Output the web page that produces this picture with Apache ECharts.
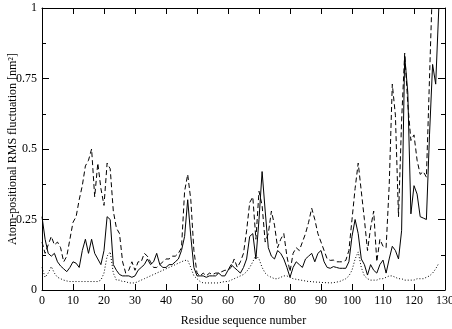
<!DOCTYPE html>
<html>
<head>
<meta charset="utf-8">
<script src="https://cdn.jsdelivr.net/npm/echarts@6/dist/echarts.min.js"></script>
<style>html,body{margin:0;padding:0;background:#fff}#c{width:452px;height:329px}</style>
</head>
<body>
<div id="c"></div>
<script>
// x ticks and y ticks
var xTicks = [0,10,20,30,40,50,60,70,80,90,100,110,120,130];
var yTicks = [0,0.25,0.5,0.75,1];
// residue 0..128 values
var solid = [0.26,0.18,0.13,0.12,0.13,0.10,0.085,0.075,0.065,0.08,
0.10,0.095,0.08,0.14,0.18,0.13,0.18,0.13,0.11,0.09,
0.14,0.26,0.25,0.09,0.07,0.055,0.05,0.05,0.05,0.045,
0.05,0.07,0.08,0.09,0.11,0.09,0.10,0.13,0.09,0.08,
0.08,0.09,0.09,0.10,0.11,0.14,0.19,0.32,0.19,0.08,
0.05,0.05,0.05,0.045,0.05,0.05,0.05,0.06,0.05,0.05,
0.07,0.09,0.08,0.07,0.06,0.08,0.11,0.19,0.20,0.11,
0.25,0.42,0.28,0.15,0.12,0.11,0.14,0.13,0.11,0.08,
0.045,0.08,0.10,0.09,0.08,0.11,0.12,0.13,0.10,0.13,
0.14,0.10,0.08,0.077,0.083,0.08,0.077,0.077,0.077,0.10,
0.19,0.25,0.20,0.11,0.09,0.053,0.09,0.07,0.06,0.09,
0.106,0.06,0.11,0.155,0.14,0.11,0.21,0.83,0.70,0.27,
0.37,0.34,0.26,0.255,0.25,0.55,0.80,0.73,1.0];
var dashed = [0.17,0.13,0.16,0.19,0.16,0.17,0.15,0.10,0.12,0.18,
0.24,0.26,0.32,0.37,0.44,0.46,0.50,0.33,0.45,0.36,
0.30,0.45,0.43,0.28,0.22,0.20,0.10,0.06,0.07,0.10,
0.07,0.10,0.10,0.13,0.12,0.10,0.08,0.08,0.09,0.10,
0.11,0.11,0.12,0.12,0.13,0.15,0.35,0.41,0.32,0.14,
0.06,0.05,0.06,0.05,0.06,0.055,0.06,0.06,0.065,0.07,
0.07,0.08,0.11,0.08,0.10,0.13,0.21,0.31,0.33,0.18,
0.35,0.30,0.17,0.20,0.28,0.23,0.15,0.18,0.20,0.12,
0.065,0.13,0.15,0.14,0.17,0.20,0.24,0.29,0.25,0.20,
0.17,0.14,0.11,0.105,0.106,0.10,0.10,0.10,0.105,0.14,
0.25,0.36,0.45,0.35,0.25,0.14,0.22,0.28,0.10,0.18,
0.155,0.15,0.37,0.73,0.62,0.26,0.60,0.84,0.66,0.53,
0.55,0.46,0.41,0.42,0.40,0.75,1.1,1.1,1.1];
var dotted = [0.08,0.045,0.06,0.083,0.06,0.045,0.04,0.035,0.032,0.03,
0.03,0.03,0.03,0.03,0.03,0.03,0.03,0.03,0.03,0.035,
0.06,0.12,0.135,0.06,0.035,0.035,0.03,0.03,0.025,0.025,
0.025,0.03,0.035,0.04,0.045,0.05,0.055,0.06,0.065,0.07,
0.075,0.08,0.085,0.09,0.095,0.10,0.105,0.105,0.08,0.05,
0.04,0.03,0.025,0.025,0.025,0.025,0.025,0.025,0.028,0.03,
0.03,0.035,0.04,0.045,0.05,0.055,0.065,0.08,0.10,0.124,
0.11,0.08,0.06,0.05,0.045,0.04,0.04,0.045,0.05,0.05,
0.045,0.04,0.038,0.036,0.034,0.032,0.03,0.03,0.028,0.028,
0.027,0.026,0.026,0.025,0.026,0.028,0.03,0.035,0.04,0.05,
0.07,0.11,0.135,0.08,0.05,0.04,0.035,0.035,0.035,0.04,
0.04,0.045,0.05,0.05,0.045,0.04,0.04,0.035,0.035,0.035,
0.035,0.04,0.04,0.04,0.045,0.05,0.06,0.075,0.095];

var FONT = 'Liberation Serif';
function pairs(arr){ return arr.map(function(v,i){ return [i, v]; }); }
var axLine = {show:true, onZero:false, lineStyle:{color:'#000', width:1}};
var chart = echarts.init(document.getElementById('c'), null, {renderer:'canvas'});
chart.setOption({
  backgroundColor:'#fff',
  animation:false,
  grid:{left:42, right:7, top:8, bottom:39, containLabel:false, outerBoundsMode:'none'},
  xAxis:[{
    type:'value', min:xTicks[0], max:xTicks[xTicks.length-1], interval:10,
    position:'bottom',
    axisLine:axLine,
    axisTick:{show:true, inside:true, length:6, lineStyle:{color:'#000'}},
    axisLabel:{show:true, color:'#000', fontFamily:FONT, fontSize:12, margin:5},
    splitLine:{show:false},
    name:'Residue sequence number', nameLocation:'middle', nameGap:25, nameMoveOverlap:false,
    nameTextStyle:{color:'#000', fontFamily:FONT, fontSize:12}
  },{
    type:'value', min:xTicks[0], max:xTicks[xTicks.length-1], interval:10,
    position:'top',
    axisLine:axLine,
    axisTick:{show:true, inside:true, length:6, lineStyle:{color:'#000'}},
    axisLabel:{show:false}, splitLine:{show:false}
  }],
  yAxis:[{
    type:'value', min:yTicks[0], max:yTicks[yTicks.length-1], interval:0.25,
    position:'left',
    axisLine:axLine,
    axisTick:{show:true, inside:true, length:7, lineStyle:{color:'#000'}},
    minorTick:{show:true, splitNumber:2, length:4, lineStyle:{color:'#000'}},
    axisLabel:{show:true, color:'#000', fontFamily:FONT, fontSize:12, margin:5},
    splitLine:{show:false},
    name:'Atom-positional RMS fluctuation [nm²]', nameLocation:'middle', nameGap:23, nameMoveOverlap:false,
    nameTextStyle:{color:'#000', fontFamily:FONT, fontSize:12}
  },{
    type:'value', min:yTicks[0], max:yTicks[yTicks.length-1], interval:0.25,
    position:'right',
    axisLine:axLine,
    axisTick:{show:true, inside:true, length:7, lineStyle:{color:'#000'}},
    minorTick:{show:true, splitNumber:2, length:4, lineStyle:{color:'#000'}},
    axisLabel:{show:false}, splitLine:{show:false}
  }],
  series:[
    {type:'line', name:'solid', data:pairs(solid), showSymbol:false, symbol:'none', clip:true,
     lineStyle:{color:'#000', width:1, type:'solid'}},
    {type:'line', name:'dashed', data:pairs(dashed), showSymbol:false, symbol:'none', clip:true,
     lineStyle:{color:'#000', width:1, type:[5,3]}},
    {type:'line', name:'dotted', data:pairs(dotted), showSymbol:false, symbol:'none', clip:true,
     lineStyle:{color:'#000', width:1, type:[1,2]}}
  ]
});
</script>
</body>
</html>
